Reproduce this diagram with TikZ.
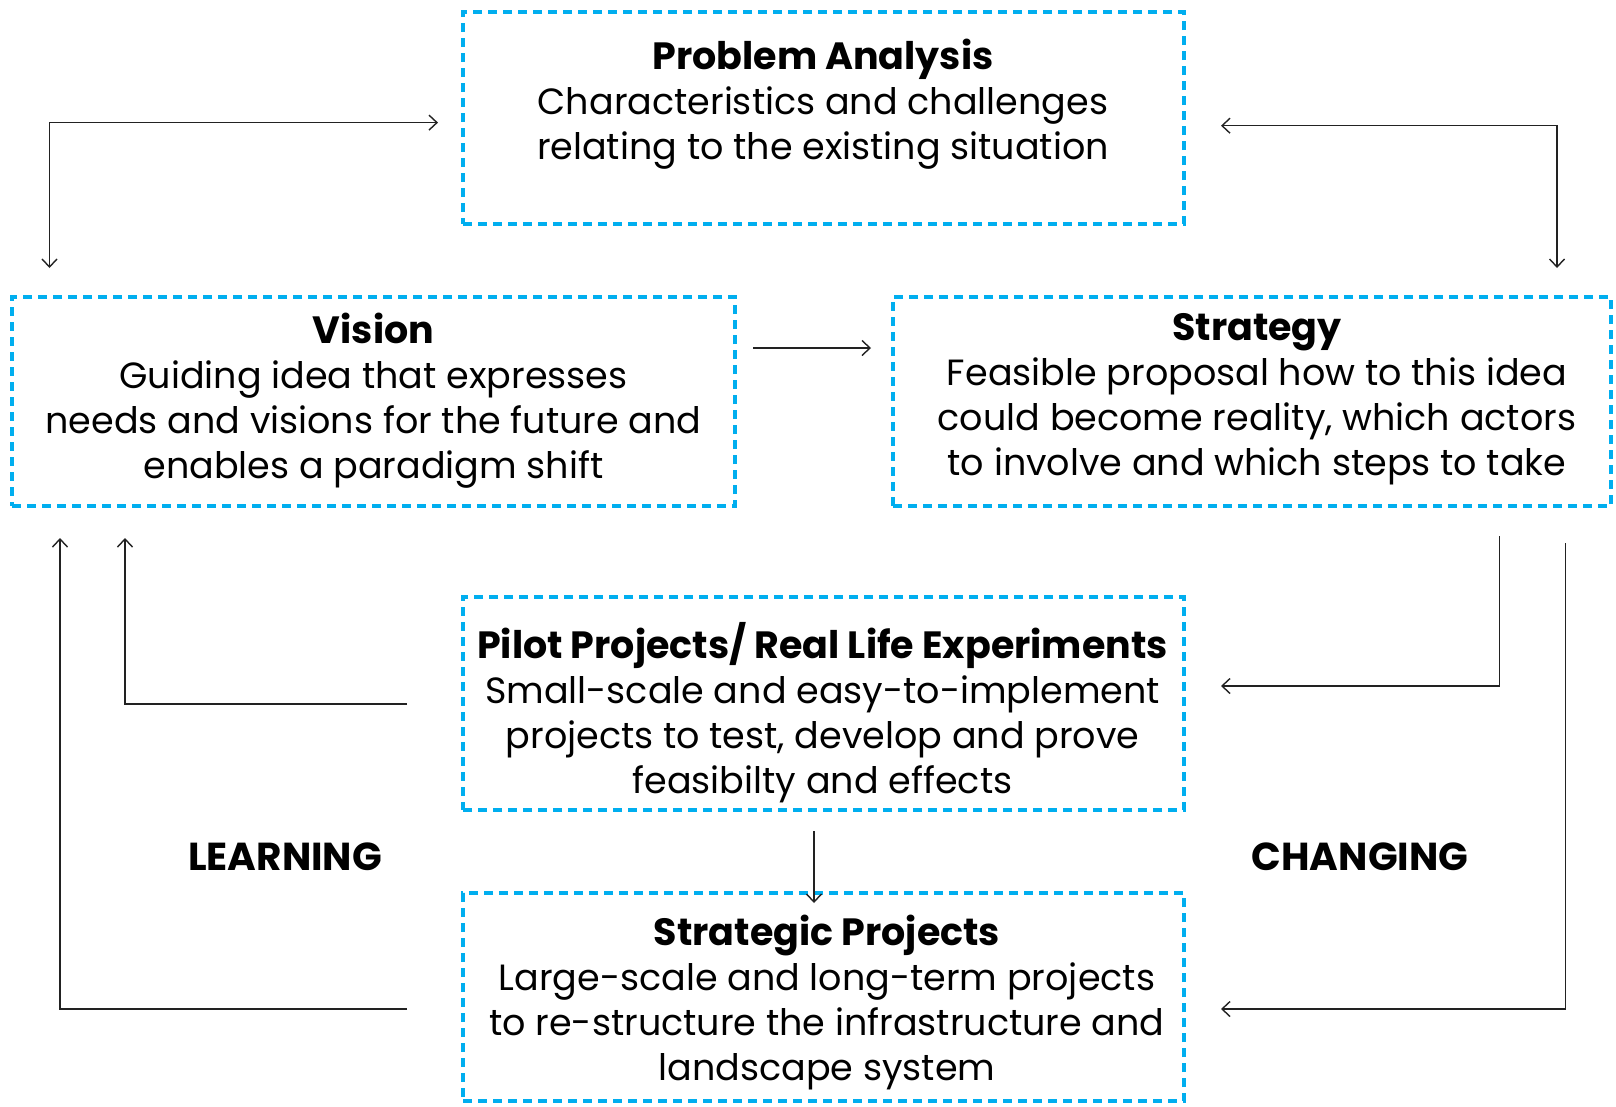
\documentclass[tikz,border=0pt]{standalone}
\usepackage{fontspec}
\setmainfont{Poppins}
\usetikzlibrary{arrows.meta}
\definecolor{boxblue}{HTML}{00AEEF}
\definecolor{linegray}{HTML}{222222}
\newcommand{\ttl}[1]{{\fontsize{38}{45}\selectfont\bfseries #1}}
\begin{document}
\begin{tikzpicture}[x=1pt,y=-1pt,
  dbox/.style={draw=boxblue, line width=4.5pt, dash pattern=on 9pt off 6pt, rectangle, inner sep=0pt},
  txt/.style={align=center, inner sep=0pt, font=\fontsize{36.5}{45}\selectfont},
  lbl/.style={inner sep=0pt, font=\fontsize{39}{45}\selectfont\bfseries},
  conn/.style={draw=linegray, line width=1.4pt},
  tip/.style={-{Straight Barb[length=8pt,width=15pt]}},
  tips/.style={{Straight Barb[length=8pt,width=15pt]}-{Straight Barb[length=8pt,width=15pt]}}]
\path[use as bounding box, fill=white] (0,0) rectangle (1616,1106);

% boxes
\node[dbox, minimum width=721pt, minimum height=212pt] (pa) at (823.5,118) {};
\node[dbox, minimum width=723pt, minimum height=209pt] (vis) at (373.5,401.5) {};
\node[dbox, minimum width=718pt, minimum height=209pt] (str) at (1252,401.5) {};
\node[dbox, minimum width=721pt, minimum height=213pt] (pil) at (823.5,703.5) {};
\node[dbox, minimum width=721pt, minimum height=208pt] (stp) at (823.5,997) {};

% texts
\node[txt] (patext) at (823,104) {\ttl{Problem Analysis}\\Characteristics and challenges\\relating to the existing situation};
\node[txt] (vistext) at (373.5,400.5) {\ttl{Vision}\\Guiding idea that expresses\\needs and visions for the future and\\enables a paradigm shift};
\node[txt] (strtext) at (1257,399) {\ttl{Strategy}\\Feasible proposal how to this idea\\could become reality, which actors\\to involve and which steps to take};
\node[txt] (piltext) at (822.5,712.5) {\ttl{Pilot Projects/ Real Life Experiments}\\Small-scale and easy-to-implement\\projects to test, develop and prove\\feasibilty and effects};
\node[txt] (stptext) at (827,1003) {\ttl{Strategic Projects}\\Large-scale and long-term projects\\to re-structure the infrastructure and\\landscape system};

\node[lbl] (learn) at (285,857) {LEARNING};
\node[lbl] (change) at (1360,857) {CHANGING};

% connector end points
\coordinate (c1a) at (49.5,268);
\coordinate (c1b) at (438,122.6);
\coordinate (c2a) at (1221,125.7);
\coordinate (c2b) at (1557,268);
\coordinate (c3a) at (753,348);
\coordinate (c3b) at (871,348);
\coordinate (c4a) at (407,1009);
\coordinate (c4b) at (60,538);
\coordinate (c5a) at (407,704);
\coordinate (c5b) at (125,538);
\coordinate (c6a) at (1499.5,536);
\coordinate (c6b) at (1221,686);
\coordinate (c7a) at (1565.5,543);
\coordinate (c7b) at (1221,1009);
\coordinate (c8a) at (814,831);
\coordinate (c8b) at (814,903);

% connectors
\draw[conn, tips] (c1a) |- (c1b);
\draw[conn, tips] (c2a) -| (c2b);
\draw[conn, tip] (c3a) -- (c3b);
\draw[conn, tip] (c4a) -| (c4b);
\draw[conn, tip] (c5a) -| (c5b);
\draw[conn, tip] (c6a) |- (c6b);
\draw[conn, tip] (c7a) |- (c7b);
\draw[conn, tip] (c8a) -- (c8b);
\end{tikzpicture}
\end{document}
